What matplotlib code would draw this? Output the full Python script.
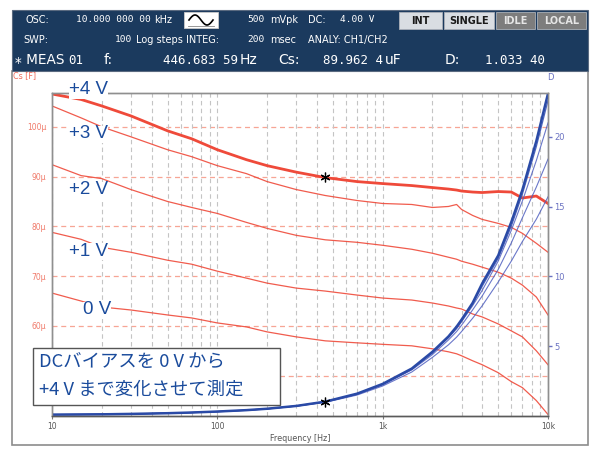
import matplotlib.pyplot as plt
from matplotlib.patches import Rectangle
from matplotlib.lines import Line2D
import numpy as np

# sweep frequencies [Hz]
freq = [10, 15, 20, 30, 50, 70, 100, 150, 200, 300, 450, 700, 1000, 1500,
        2000, 2500, 2800, 3000, 3500, 4000, 5000, 6000, 7000, 8500, 10000]

# Cs [uF] for each DC bias
cs_4v = [106.6, 105.5, 104.2, 102.2, 99.2, 97.6, 95.4, 93.4, 92.2, 90.9, 89.8, 89.0, 88.6,
         88.2, 87.8, 87.5, 87.3, 87.1, 86.9, 86.8, 87.0, 86.9, 85.7, 86.1, 84.6]
cs_3v = [104.2, 101.8, 100.0, 98.0, 95.4, 94.0, 92.2, 90.6, 89.0, 87.4, 86.2, 85.2, 84.6,
         84.4, 83.8, 84.0, 84.4, 83.4, 82.2, 81.4, 80.6, 79.8, 78.6, 76.6, 74.8]
cs_2v = [92.4, 90.2, 89.6, 87.4, 85.0, 83.8, 82.6, 80.8, 79.6, 78.2, 77.3, 76.8, 76.2,
         75.4, 74.6, 73.8, 73.4, 73.0, 72.4, 71.8, 70.8, 69.6, 68.2, 65.8, 62.2]
cs_1v = [78.8, 77.4, 75.8, 74.8, 73.2, 72.4, 71.0, 69.6, 68.6, 67.6, 67.0, 66.2, 65.6,
         65.2, 64.6, 64.0, 63.6, 63.4, 62.4, 61.8, 60.4, 59.0, 57.8, 55.0, 52.2]
cs_0v = [66.6, 65.0, 63.8, 63.2, 62.2, 61.6, 60.6, 59.8, 58.8, 57.8, 57.0, 56.6, 56.3,
         56.0, 55.4, 54.8, 54.4, 54.0, 53.0, 52.2, 50.6, 48.8, 47.6, 45.0, 42.2]

# D for each DC bias
d_4v = [0.10, 0.11, 0.12, 0.15, 0.20, 0.25, 0.32, 0.42, 0.52, 0.72, 1.03, 1.60, 2.30,
        3.40, 4.60, 5.70, 6.40, 6.90, 8.10, 9.50, 11.5, 13.9, 16.2, 19.7, 23.1]
d_3v = [0.10, 0.11, 0.12, 0.15, 0.20, 0.25, 0.32, 0.42, 0.52, 0.72, 1.02, 1.58, 2.27,
        3.35, 4.55, 5.65, 6.30, 6.80, 8.00, 9.30, 11.3, 13.6, 15.9, 19.3, 22.6]
d_2v = [0.10, 0.11, 0.12, 0.15, 0.20, 0.25, 0.32, 0.42, 0.52, 0.72, 1.02, 1.58, 2.27,
        3.35, 4.50, 5.60, 6.25, 6.75, 7.90, 9.00, 11.1, 13.3, 15.4, 18.3, 21.0]
d_1v = [0.10, 0.11, 0.12, 0.15, 0.20, 0.25, 0.31, 0.41, 0.51, 0.71, 1.00, 1.55, 2.22,
        3.30, 4.40, 5.45, 6.05, 6.50, 7.60, 8.60, 10.5, 12.4, 14.2, 16.4, 18.4]
d_0v = [0.10, 0.11, 0.12, 0.15, 0.19, 0.24, 0.30, 0.40, 0.50, 0.70, 0.98, 1.50, 2.15,
        3.15, 4.20, 5.10, 5.65, 6.05, 7.00, 7.90, 9.6, 11.1, 12.5, 14.1, 15.7]

cs_ticks = [60, 70, 80, 90, 100]
d_ticks = [5, 10, 15, 20]
f_ticks = [10, 100, 1000, 10000]
f_labels = ["10", "100", "1k", "10k"]

W, H = 600, 451
def fx(x): return x / W
def fy(y): return 1 - y / H

navy = "#1b3a5e"
red = "#ef4a3a"
blue = "#2a4aa6"
dblue = "#6a72c2"
txtblue = "#1a4b9c"

fig = plt.figure(figsize=(6, 4.51), dpi=100)

# outer panel + header band
fig.add_artist(Rectangle((fx(12), fy(445)), fx(588) - fx(12), fy(71) - fy(445),
                         fill=False, ec="#8c8c8c", lw=1.2))
fig.add_artist(Rectangle((fx(12), fy(71)), fx(588) - fx(12), fy(10) - fy(71),
                         fc=navy, ec="#5a6a80", lw=0.8))

sans = "DejaVu Sans"
mono = "DejaVu Sans Mono"
def htxt(x, y, s, size=7, fam=sans, ha="left", color="white", weight="normal"):
    fig.text(fx(x), fy(y), s, fontsize=size, family=fam, ha=ha, va="center",
             color=color, weight=weight)

htxt(25, 20, "OSC:")
htxt(76, 20, "10.000 000 00", fam=mono, size=6.8)
htxt(154, 20, "kHz")
htxt(265, 20, "500", fam=mono, size=6.8, ha="right")
htxt(270, 20, "mVpk")
htxt(308, 20, "DC:")
htxt(340, 20, "4.00 V", fam=mono, size=6.8)
htxt(23, 40, "SWP:")
htxt(132, 40, "100", fam=mono, size=6.8, ha="right")
htxt(136, 40, "Log steps INTEG:")
htxt(265, 40, "200", fam=mono, size=6.8, ha="right")
htxt(270, 40, "msec")
htxt(308, 40, "ANALY: CH1/CH2")
htxt(15, 60, "\u204e MEAS", size=9.8)
htxt(68, 60, "01", fam=mono, size=9)
htxt(104, 60, "f:", size=10)
htxt(238, 60, "446.683 59", fam=mono, size=9, ha="right")
htxt(240, 60, "Hz", size=10)
htxt(278, 60, "Cs:", size=10)
htxt(383, 60, "89.962 4", fam=mono, size=9, ha="right")
htxt(385, 60, "uF", size=10)
htxt(445, 60, "D:", size=10)
htxt(545, 60, "1.033 40", fam=mono, size=9, ha="right")

# waveform icon
fig.add_artist(Rectangle((fx(184), fy(28)), fx(218) - fx(184), fy(12) - fy(28),
                         fc="white", ec="#cccccc", lw=0.6))
t = np.linspace(0, 2 * np.pi, 60)
fig.add_artist(Line2D(fx(189 + 24 * t / (2 * np.pi)), fy(20 - 5 * np.sin(t)),
                      color="black", lw=1.2))
fig.add_artist(Line2D([fx(188), fx(214)], [fy(26), fy(26)], color="#888888", lw=0.6))

# buttons
buttons = [("INT", 399, 442, "#d9dde2", "#1a1a1a"),
           ("SINGLE", 444, 494, "#d9dde2", "#1a1a1a"),
           ("IDLE", 496, 535, "#7d7d7d", "#e6e6e6"),
           ("LOCAL", 537, 586, "#7d7d7d", "#e6e6e6")]
for name, x0, x1, fc, tc in buttons:
    fig.add_artist(Rectangle((fx(x0), fy(29)), fx(x1) - fx(x0), fy(12) - fy(29),
                             fc=fc, ec="#aab0b8", lw=0.6))
    htxt((x0 + x1) / 2, 20.5, name, size=7, ha="center", color=tc, weight="bold")

# main plot
ax = fig.add_axes([fx(52), fy(416), fx(548) - fx(52), fy(93) - fy(416)])
ax.set_xscale("log")
ax.set_xlim(10, 10000)
ax.set_ylim(41.9, 106.8)

ax.grid(axis="x", which="both", color="#c4c4c4", ls=(0, (4, 3)), lw=0.8)
for v in [50] + cs_ticks:
    ax.axhline(v, color="#f7a595", ls=(0, (4, 3)), lw=0.9, zorder=1)

ax.plot(freq, cs_0v, color=red, lw=0.9, alpha=0.9)
ax.plot(freq, cs_1v, color=red, lw=0.9, alpha=0.9)
ax.plot(freq, cs_2v, color=red, lw=0.9, alpha=0.9)
ax.plot(freq, cs_3v, color=red, lw=0.9, alpha=0.9)
ax.plot(freq, cs_4v, color=red, lw=2.0)
ax.plot(446.7, 89.96, marker=(6, 2, 0), color="black", ms=7, mew=0.9, zorder=10)

ax.set_yticks(cs_ticks)
ax.set_yticklabels([f"{v}\u03bc" for v in cs_ticks])
ax.tick_params(axis="y", length=0, pad=4, labelsize=5.5, labelcolor="#f07a6a")
ax.set_xticks(f_ticks)
ax.set_xticklabels(f_labels)
ax.tick_params(axis="x", which="major", length=2.5, pad=2, labelsize=5.5,
               labelcolor="#555555", color="#777777")
ax.tick_params(axis="x", which="minor", length=0)
ax.set_xlabel("Frequency [Hz]", fontsize=5.8, color="#555555", labelpad=2)

ax2 = ax.twinx()
ax2.set_ylim(0, 23.14)
for dv, w, c, a in [(d_0v, 0.8, "#5060c0", 0.85), (d_1v, 0.8, "#5060c0", 0.85),
                    (d_2v, 0.8, "#5060c0", 0.85), (d_3v, 0.9, "#4058b8", 0.9),
                    (d_4v, 1.8, blue, 1.0)]:
    ax2.plot(freq, dv, color=c, lw=w, alpha=a)
ax2.plot(446.7, 1.033, marker=(6, 2, 0), color="black", ms=7, mew=0.9, zorder=10)
ax2.set_yticks(d_ticks)
ax2.tick_params(axis="y", length=3, width=1, color=dblue, pad=1.5, labelsize=6,
                labelcolor=dblue)

for a in (ax, ax2):
    for s in a.spines.values():
        s.set_color("#8f8f8f")
        s.set_linewidth(1.0)
    a.spines["bottom"].set_color("#5a5a5a")

fig.text(fx(13), fy(76), "Cs [F]", fontsize=5.8, color="#f06a5a", va="center")
fig.text(fx(550), fy(77), "D", fontsize=6, color=dblue, va="center", ha="center")

# bias labels
labels = [("+4 V", 69, 90), ("+3 V", 69, 134), ("+2 V", 69, 190),
          ("+1 V", 69, 251), ("0 V", 83, 310)]
for s, x, y in labels:
    fig.text(fx(x), fy(y), s, fontsize=13.5, family="Liberation Sans", color=txtblue,
             va="center", ha="left", zorder=6,
             bbox=dict(fc="white", ec="none", pad=0.0))

# note box
fig.add_artist(Rectangle((fx(33), fy(405)), fx(280) - fx(33), fy(348) - fy(405),
                         fc="white", ec="#555555", lw=1.0, zorder=5))
cjk = ["Noto Sans CJK JP", "DejaVu Sans"]
fig.text(fx(39), fy(362), "DCバイアスを 0 V から", fontsize=13.2, family=cjk,
         color=txtblue, va="center", zorder=6)
fig.text(fx(39), fy(390), "+4 V まで変化させて測定", fontsize=13.2, family=cjk,
         color=txtblue, va="center", zorder=6)

fig.savefig("out.png", dpi=100)
